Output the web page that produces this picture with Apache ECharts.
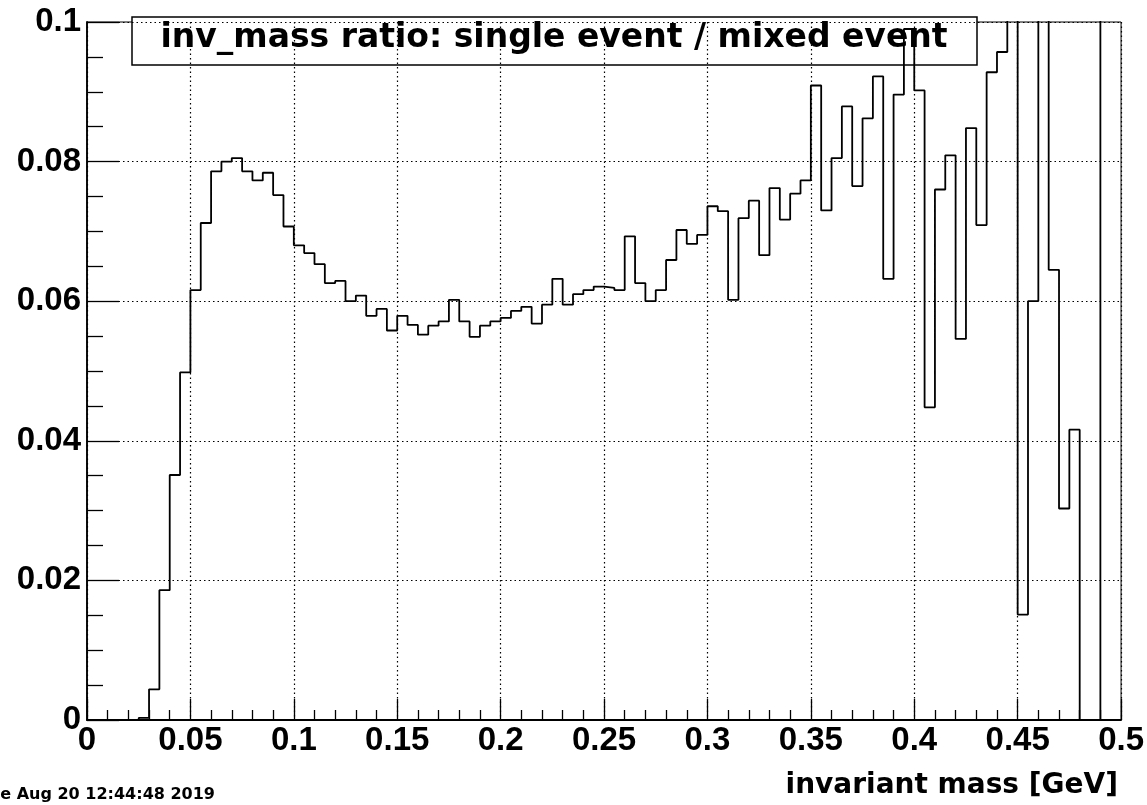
<!DOCTYPE html>
<html>
<head>
<meta charset="utf-8">
<title>inv_mass ratio</title>
<script src="https://cdn.jsdelivr.net/npm/echarts@6.0.0/dist/echarts.min.js"></script>
<style>
  html, body { margin: 0; padding: 0; background: #fff; }
  #chart { width: 1147px; height: 805px; }
</style>
</head>
<body>
<div id="chart"></div>
<script>
// histogram binning (100 bins over 0 - 0.5 GeV)
const xMin = 0
const xMax = 0.5
const binWidth = 0.005
const xTickStep = 0.05
const yMin = 0
const yMax = 0.1
const yTickStep = 0.02

// bin contents (bins above 0.1 are off scale)
const ratio = [
  0, 0, 0, 0, 0, 0.0003, 0.0044, 0.0186, 0.0351, 0.0498,
  0.0616, 0.0712, 0.0786, 0.0800, 0.0805, 0.0786, 0.0773, 0.0784, 0.0752, 0.0707,
  0.0680, 0.0669, 0.0653, 0.0626, 0.0629, 0.0600, 0.0608, 0.0579, 0.0589, 0.0558,
  0.0579, 0.0566, 0.0552, 0.0565, 0.0571, 0.0602, 0.0571, 0.0549, 0.0565, 0.0571,
  0.0576, 0.0586, 0.0592, 0.0568, 0.0595, 0.0632, 0.0595, 0.0610, 0.0616, 0.0621,
  0.0619, 0.0616, 0.0693, 0.0626, 0.0600, 0.0616, 0.0659, 0.0702, 0.0682, 0.0695,
  0.0736, 0.0729, 0.0602, 0.0719, 0.0744, 0.0666, 0.0762, 0.0717, 0.0754, 0.0773,
  0.0909, 0.0730, 0.0805, 0.0879, 0.0765, 0.0862, 0.0922, 0.0632, 0.0896, 0.0990,
  0.0902, 0.0448, 0.0760, 0.0809, 0.0546, 0.0848, 0.0709, 0.0928, 0.0957, 0.1150,
  0.0151, 0.0600, 0.1150, 0.0645, 0.0303, 0.0416, 0, 0, 0.1150, 0.1150
]

const titleText = 'inv_mass ratio: single event / mixed event'
const xTitle = 'invariant mass [GeV]'
const dateText = 'Tue Aug 20 12:44:48 2019'

// step outline: one point per bin low edge, plus the upper edge of the last bin
const outline = ratio.map((v, i) => [xMin + i * binWidth, v])
outline.push([xMax, ratio[ratio.length - 1]])

const chart = echarts.init(document.getElementById('chart'), null, { renderer: 'canvas' })

const labelFont = {
  fontFamily: 'Liberation Sans',
  fontWeight: 'bold',
  fontSize: 33,
  color: '#000'
}
const gridDots = {
  show: true,
  lineStyle: { color: '#000', width: 1.2, type: [1.5, 3] }
}

const option = {
  animation: false,
  backgroundColor: '#fff',
  grid: {
    left: 87,
    right: 25,
    top: 22,
    bottom: 85,
    show: true,
    borderColor: '#000',
    borderWidth: 1,
    backgroundColor: 'transparent'
  },
  xAxis: {
    type: 'value',
    min: xMin,
    max: xMax,
    interval: xTickStep,
    axisLine: { show: true, onZero: false, lineStyle: { color: '#000', width: 1.8 } },
    axisTick: { show: true, inside: true, length: 21, lineStyle: { color: '#000', width: 1.3 } },
    minorTick: { show: true, splitNumber: 5, length: 10, lineStyle: { color: '#000', width: 1.3 } },
    axisLabel: Object.assign({ margin: 4 }, labelFont),
    splitLine: gridDots
  },
  yAxis: {
    type: 'value',
    min: yMin,
    max: yMax,
    interval: yTickStep,
    axisLine: { show: true, onZero: false, lineStyle: { color: '#000', width: 1.8 } },
    axisTick: { show: true, inside: true, length: 32, lineStyle: { color: '#000', width: 1.3 } },
    minorTick: { show: true, splitNumber: 4, length: 16, lineStyle: { color: '#000', width: 1.3 } },
    axisLabel: Object.assign({ margin: 6 }, labelFont),
    splitLine: gridDots
  },
  series: [
    {
      name: 'ratio',
      type: 'line',
      step: 'end',
      data: outline,
      symbol: 'none',
      clip: true,
      z: 3,
      lineStyle: { color: '#000', width: 1.8 }
    }
  ],
  graphic: [
    {
      type: 'group',
      z: 100,
      children: [
        {
          type: 'rect',
          shape: { x: 132, y: 17, width: 845, height: 48 },
          style: { fill: '#fff', stroke: '#000', lineWidth: 1.5 }
        },
        {
          type: 'text',
          x: 554,
          y: 38,
          style: {
            text: titleText,
            fill: '#000',
            font: 'bold 33px "DejaVu Sans"',
            textAlign: 'center',
            textVerticalAlign: 'middle'
          }
        }
      ]
    },
    {
      type: 'text',
      z: 100,
      x: 1118,
      y: 786,
      style: {
        text: xTitle,
        fill: '#000',
        font: 'bold 28px "DejaVu Sans"',
        textAlign: 'right',
        textVerticalAlign: 'middle'
      }
    },
    {
      type: 'text',
      z: 100,
      x: 215,
      y: 795,
      style: {
        text: dateText,
        fill: '#000',
        font: 'bold 16px "DejaVu Sans"',
        textAlign: 'right',
        textVerticalAlign: 'middle'
      }
    }
  ]
}

chart.setOption(option)
</script>
</body>
</html>
